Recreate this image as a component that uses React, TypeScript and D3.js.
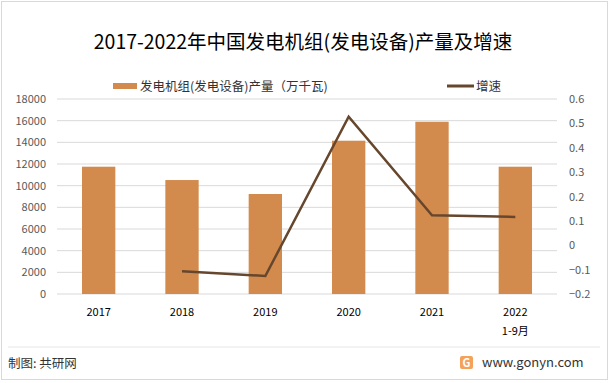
import React from "react";
import * as d3 from "d3";

const categories = ["2017", "2018", "2019", "2020", "2021", "2022"];
const categorySub = ["", "", "", "", "", "1-9月"];
const output = [11750, 10520, 9230, 14150, 15900, 11750];
const growth: (number | null)[] = [null, -0.107, -0.126, 0.527, 0.123, 0.116];
const leftTicks = [0, 2000, 4000, 6000, 8000, 10000, 12000, 14000, 16000, 18000];
const rightTicks = [-0.2, -0.1, 0, 0.1, 0.2, 0.3, 0.4, 0.5, 0.6];

const W = 610;
const H = 383;
const FONT = "'Noto Sans CJK SC', 'Noto Sans', sans-serif";
const BAR = "#D38B4D";
const LINE = "#66472D";

export default function App() {
  const x = d3.scaleBand<string>().domain(categories).range([57, 557]).paddingInner(0.6).paddingOuter(0.3);
  const yL = d3.scaleLinear().domain([0, 18000]).range([294, 99]);
  const yR = d3.scaleLinear().domain([-0.2, 0.6]).range([294, 99]);
  const cx = (c: string) => (x(c) as number) + x.bandwidth() / 2;
  const pts = categories
    .map((c, i) => ({ c, v: growth[i] }))
    .filter((d) => d.v !== null) as { c: string; v: number }[];
  const line = d3
    .line<{ c: string; v: number }>()
    .x((d) => cx(d.c))
    .y((d) => yR(d.v));

  return (
    <svg width={W} height={H} style={{ position: "absolute", left: 0, top: 0, background: "#fff" }} fontFamily={FONT}>
      <rect x={1.5} y={1.5} width={606} height={378} fill="#fff" stroke="#d9d9d9" />
      <text x={303} y={49} textAnchor="middle" fontSize={19.5} fill="#000">
        2017-2022年中国发电机组(发电设备)产量及增速
      </text>
      {/* legend */}
      <rect x={113} y={83} width={24} height={6} fill={BAR} />
      <text x={140} y={90.5} fontSize={12.5} fill="#333">发电机组(发电设备)产量（万千瓦)</text>
      <line x1={447} x2={474} y1={86} y2={86} stroke={LINE} strokeWidth={3} />
      <text x={476} y={90.5} fontSize={12.5} fill="#333">增速</text>
      {/* gridlines */}
      {leftTicks.map((t) => (
        <line key={t} x1={57} x2={557} y1={yL(t)} y2={yL(t)} stroke="#d9d9d9" strokeWidth={1} />
      ))}
      {leftTicks.map((t) => (
        <text key={"l" + t} x={46} y={yL(t) + 4} textAnchor="end" fontSize={11} fill="#595959">
          {t}
        </text>
      ))}
      {rightTicks.map((t) => (
        <text key={"r" + t} x={569} y={yR(t) + 4} textAnchor="start" fontSize={11} fill="#595959">
          {d3.format("")(Math.round(t * 10) / 10)}
        </text>
      ))}
      {categories.map((c, i) => (
        <rect key={c} x={x(c)} y={yL(output[i])} width={x.bandwidth()} height={yL(0) - yL(output[i])} fill={BAR} />
      ))}
      <path d={line(pts) || ""} fill="none" stroke={LINE} strokeWidth={2.5} strokeLinejoin="miter" />
      {categories.map((c, i) => (
        <g key={"x" + c}>
          <text x={cx(c)} y={316} textAnchor="middle" fontSize={11} fill="#000">
            {c}
          </text>
          {categorySub[i] && (
            <text x={cx(c)} y={335} textAnchor="middle" fontSize={11} fill="#000">
              {categorySub[i]}
            </text>
          )}
        </g>
      ))}
      {/* footer */}
      <line x1={8} x2={600} y1={347} y2={347} stroke="#e6e6e6" />
      <text x={8} y={368} fontSize={12.5} fill="#333">制图: 共研网</text>
      <rect x={460} y={356} width={13} height={13} rx={2} fill="#F4A25A" />
      <text x={466.5} y={367} textAnchor="middle" fontSize={11} fontWeight="bold" fill="#fff">G</text>
      <text x={482} y={367} fontSize={13} fill="#333">www.gonyn.com</text>
    </svg>
  );
}
